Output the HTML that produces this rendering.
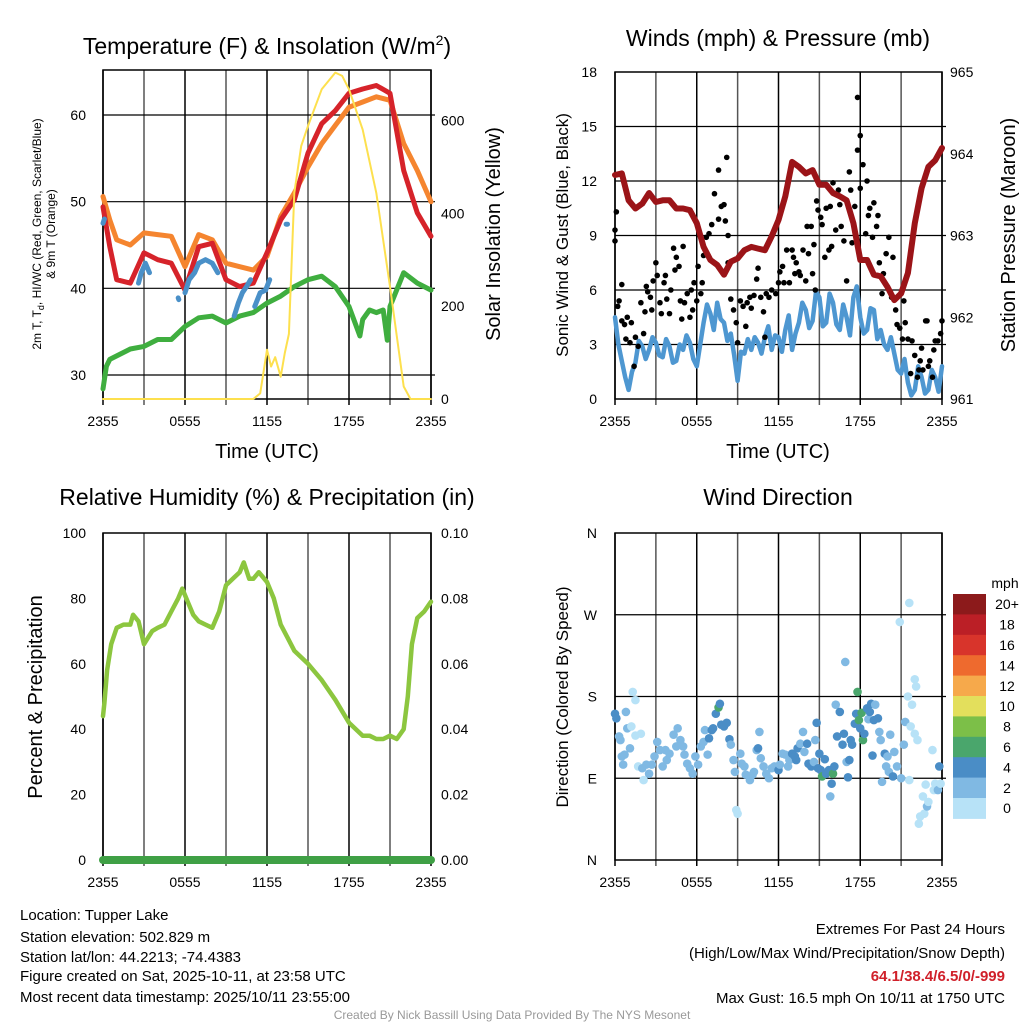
<!DOCTYPE html>
<html><head><meta charset="utf-8"><style>
html,body{margin:0;padding:0;background:#fff;}
svg{display:block;font-family:"Liberation Sans",Arial,sans-serif;}
</style></head><body>
<svg id="chart" width="1024" height="1024" viewBox="0 0 1024 1024" xmlns="http://www.w3.org/2000/svg">
<rect width="1024" height="1024" fill="#fff"/>
<g id="layer"></g>
<text x="267" y="54" font-size="23" text-anchor="middle">Temperature (F) &amp; Insolation (W/m<tspan font-size="14" dy="-9">2</tspan><tspan dy="9">)</tspan></text>
<text x="778" y="46" font-size="23" text-anchor="middle">Winds (mph) &amp; Pressure (mb)</text>
<text x="267" y="505" font-size="23" text-anchor="middle">Relative Humidity (%) &amp; Precipitation (in)</text>
<text x="778" y="505" font-size="23" text-anchor="middle">Wind Direction</text>
<text transform="translate(41,234) rotate(-90)" font-size="12" text-anchor="middle">2m T, T<tspan font-size="9" dy="3">d</tspan><tspan dy="-3">, HI/WC (Red, Green, Scarlet/Blue)</tspan></text>
<text transform="translate(55,234) rotate(-90)" font-size="12" text-anchor="middle">&amp; 9m T (Orange)</text>
<text transform="translate(500,234) rotate(-90)" font-size="20" text-anchor="middle">Solar Insolation (Yellow)</text>
<text x="267" y="458" font-size="20" text-anchor="middle">Time (UTC)</text>
<text transform="translate(568,235) rotate(-90)" font-size="17" text-anchor="middle">Sonic Wind &amp; Gust (Blue, Black)</text>
<text transform="translate(1015,235) rotate(-90)" font-size="20" text-anchor="middle">Station Pressure (Maroon)</text>
<text x="778" y="458" font-size="20" text-anchor="middle">Time (UTC)</text>
<text transform="translate(42,697) rotate(-90)" font-size="20" text-anchor="middle">Percent &amp; Precipitation</text>
<text transform="translate(568,697) rotate(-90)" font-size="17" text-anchor="middle">Direction (Colored By Speed)</text>
<g font-size="15">
<text x="20" y="920">Location: Tupper Lake</text>
<text x="20" y="942">Station elevation: 502.829 m</text>
<text x="20" y="962">Station lat/lon: 44.2213; -74.4383</text>
<text x="20" y="981">Figure created on Sat, 2025-10-11, at 23:58 UTC</text>
<text x="20" y="1002">Most recent data timestamp: 2025/10/11 23:55:00</text>
</g>
<g font-size="15" text-anchor="end">
<text x="1005" y="934">Extremes For Past 24 Hours</text>
<text x="1005" y="958">(High/Low/Max Wind/Precipitation/Snow Depth)</text>
<text x="1005" y="981" fill="#d0202a" font-weight="bold">64.1/38.4/6.5/0/-999</text>
<text x="1005" y="1003">Max Gust: 16.5 mph On 10/11 at 1750 UTC</text>
</g>
<text x="512" y="1019" font-size="12" fill="#999" text-anchor="middle">Created By Nick Bassill Using Data Provided By The NYS Mesonet</text>
</svg>
<script>
// ---------- data ----------
const xTickLabels = ["2355","0555","1155","1755","2355"];
const tempTicks = [30,40,50,60];
const solarTicks = [0,200,400,600];
const windTicks = [0,3,6,9,12,15,18];
const presTicks = [961,962,963,964,965];
const rhTicks = [0,20,40,60,80,100];
const precipTicks = ["0.00","0.02","0.04","0.06","0.08","0.10"];
const dirTicks = ["N","E","S","W","N"];
const speedBins = ["0","2","4","6","8","10","12","14","16","18","20+"];
const speedColors = ["#b7e2f7","#80b9e3","#4a8dc6","#4aa66c","#7cbf48","#e3df5c","#f6a94b","#ee6a2e","#d8342b","#bb1f26","#8c1a1b"];

const orangeT = [0,0.5,1,2,3,4,5,6,7,8,9,10,11,12,13,14,15,16,17,18,19,20,21,22,23,24];
const orangeV = [50.6,47.9,45.6,45.0,46.4,46.2,46.0,42.5,46.2,45.6,42.9,42.5,42.1,43.7,48.3,51.0,54.0,56.7,58.8,60.9,61.5,62.1,61.7,56.7,53.6,50.0];
const redT = [0,0.5,1,2,3,4,5,6,7,8,9,10,11,12,13,14,15,16,17,18,19,20,21,22,23,24];
const redV = [49.4,44.8,41.0,40.6,44.1,43.3,42.9,39.8,44.8,45.2,41.0,40.2,40.6,44.1,47.9,50.2,55.6,59.0,60.5,62.5,63.0,63.4,62.5,53.6,48.7,46.0];
const blueTT = [0,0.1,null,2.6,2.8,3.1,3.4,null,5.5,5.55,null,6.0,6.3,6.7,7.0,7.5,8.0,8.4,null,9.6,9.9,10.2,10.5,10.8,null,11.1,11.5,11.9,12.2,null,13.4,13.5];
const blueTV = [47.5,48,null,40.6,41.8,42.9,41.8,null,38.9,38.7,null,39.5,41,41.8,42.9,43.3,42.9,41.8,null,36.8,38.3,39.5,40.2,41,null,37.9,39.5,39.8,41,null,47.4,47.4];
const greenT = [0,0.25,0.5,1,2,3,4,5,6,7,8,9,10,11,12,13,14,15,16,17,18,18.8,19,19.5,20,20.5,20.8,21,22,23,24];
const greenV = [28.4,31,31.8,32.2,33.0,33.3,34.1,34.1,35.6,36.6,36.8,36.0,36.8,37.2,38.3,39.1,40.2,41.0,41.4,40.2,37.9,34.5,36.4,37.5,37.2,37.5,34.0,37.9,41.8,40.6,39.8];
const solarT = [0,11,11.5,12,12.3,12.6,13,13.3,13.6,14,14.5,15,16,17,17.5,18,19,20,21,22,22.5,24];
const solarV = [0,0,12,106,70,90,48,99,140,444,545,588,667,703,696,667,580,444,242,27,0,0];

const presT = [0,0.5,1,1.5,2,2.5,3,3.5,4,4.5,5,5.5,6,6.5,7,7.5,8,8.5,9,9.5,10,10.5,11,11.5,12,12.5,13,13.5,14,14.5,15,15.5,16,16.5,17,17.5,18,18.5,19,19.5,20,20.5,21,21.5,22,22.5,23,23.5,24];
const presV = [963.74,963.76,963.43,963.33,963.39,963.52,963.41,963.43,963.43,963.33,963.33,963.31,963.15,962.86,962.70,962.64,962.52,962.68,962.72,962.82,962.86,962.84,962.82,962.99,963.19,963.48,963.90,963.84,963.76,963.80,963.62,963.62,963.52,963.48,963.43,963.15,962.70,962.70,962.52,962.50,962.37,962.21,962.29,962.54,963.15,963.58,963.84,963.92,964.07];
const windT = [0,0.25,0.5,0.75,1,1.25,1.5,1.75,2,2.25,2.5,2.75,3,3.25,3.5,3.75,4,4.25,4.5,4.75,5,5.25,5.5,5.75,6,6.25,6.5,6.75,7,7.25,7.5,7.75,8,8.25,8.5,8.75,9,9.25,9.5,9.75,10,10.25,10.5,10.75,11,11.25,11.5,11.75,12,12.25,12.5,12.75,13,13.25,13.5,13.75,14,14.25,14.5,14.75,15,15.25,15.5,15.75,16,16.25,16.5,16.75,17,17.25,17.5,17.75,18,18.25,18.5,18.75,19,19.25,19.5,19.75,20,20.25,20.5,20.75,21,21.25,21.5,21.75,22,22.25,22.5,22.75,23,23.25,23.5,23.75,24];
const windV = [4.5,3.0,2.1,1.2,0.5,1.5,2.0,3.2,2.9,2.2,2.7,3.4,3.1,2.4,2.3,3.3,2.9,2.0,2.1,3.0,2.7,3.5,3.1,2.2,1.8,3.0,4.2,5.2,4.7,3.8,5.3,4.4,4.2,3.2,3.6,2.4,1.0,2.6,2.5,3.3,2.7,3.4,3.1,2.5,3.4,4.0,2.7,3.5,3.4,2.6,3.8,4.6,2.7,3.6,4.2,5.3,4.9,3.9,4.3,5.9,5.6,4.0,4.2,5.8,5.3,4.1,3.8,5.2,4.5,3.5,5.6,6.2,4.5,3.6,3.8,5.0,4.9,3.3,3.8,3.0,2.7,3.4,2.5,1.6,1.4,2.2,0.9,0.2,0.5,1.8,1.2,0.3,0.5,1.6,1.2,0.4,1.8];
const gustT = [0,0.1,0,0.2,0.3,0.5,0.5,0.7,0.9,0.8,1.1,1.2,1.4,1.5,1.7,1.9,2.1,2.2,2.3,2.4,2.6,2.7,2.8,3.0,3.1,3.3,3.4,3.6,3.7,3.8,4.0,4.1,4.3,4.4,4.5,4.7,4.8,4.9,5.0,5.1,5.3,5.5,5.6,5.7,5.8,6.0,6.1,6.3,6.4,6.5,6.7,6.9,7.1,7.3,7.6,7.6,7.8,8.0,8.1,8.2,8.3,8.3,8.5,8.7,8.9,9.0,9.2,9.4,9.6,9.7,9.9,10.0,10.2,10.4,10.5,10.7,10.9,11.0,11.1,11.3,11.5,11.8,12.0,12.1,12.3,12.4,12.6,12.8,13.0,13.1,13.2,13.3,13.5,13.6,13.8,14.0,14.1,14.2,14.4,14.5,14.6,14.7,14.8,14.9,15.1,15.2,15.4,15.5,15.7,15.8,15.9,16.0,16.2,16.4,16.5,16.6,16.8,17.0,17.2,17.3,17.4,17.6,17.8,17.8,18.0,18.0,18.2,18.4,18.5,18.6,18.7,18.9,19.0,19.2,19.3,19.4,19.6,19.7,19.9,20.1,20.3,20.4,20.6,20.7,20.9,21.1,21.2,21.3,21.5,21.7,21.8,22.0,22.2,22.3,22.4,22.5,22.6,22.8,22.9,23.0,23.1,23.3,23.4,23.5,23.7,23.9,24.0];
const gustV = [8.7,10.3,9.3,5.1,5.4,6.3,4.3,4.1,4.5,3.3,3.1,4.2,1.8,3.4,2.9,5.3,3.6,4.8,6.2,5.9,5.6,4.9,6.5,7.5,6.8,5.3,4.7,6.4,6.8,5.5,4.7,6.0,8.3,7.1,7.8,7.3,5.4,4.4,8.4,5.3,5.8,4.5,6.0,4.9,6.4,5.4,7.3,5.8,6.4,7.9,8.9,9.1,9.6,11.3,9.9,12.6,10.6,10.7,9.8,13.3,9.0,7.5,5.5,4.9,4.2,3.1,5.4,5.1,4.0,5.3,5.6,5.0,5.7,6.6,7.2,5.6,4.8,3.4,5.8,5.6,6.0,5.8,6.4,7.0,7.3,6.4,8.2,6.4,8.2,7.8,6.9,7.5,7.0,6.8,8.2,6.5,9.5,8.0,9.5,6.9,8.5,6.0,10.9,10.4,10.0,9.6,7.8,10.5,8.2,10.6,8.4,11.9,9.3,11.5,10.7,9.5,8.7,6.5,12.5,11.5,8.6,10.6,13.7,16.6,14.5,11.6,12.9,9.1,12.0,10.1,10.5,8.9,10.8,9.5,10.1,7.5,5.8,6.9,8.0,8.9,5.6,7.8,4.9,4.1,3.9,3.3,5.4,4.2,3.3,1.4,3.2,2.4,1.2,1.6,2.1,2.8,1.6,4.3,4.3,1.8,2.1,1.2,2.7,3.2,3.2,3.6,4.3];

const rhT = [0,0.1,0.3,0.6,1,1.5,2,2.2,2.6,3,3.3,3.6,4,4.5,5,5.5,5.8,6.2,6.6,7,7.5,8,8.5,9,9.5,10,10.3,10.7,11,11.4,12,12.5,13,13.5,14,15,16,17,18,19,19.5,20,20.5,21,21.5,22,22.3,22.6,23,23.5,24];
const rhV = [44,48,58,66,71,72,72,75,73,66,68,70,71,72,76,80,83,79,75,73,72,71,76,84,86,88,91,86,86,88,85,80,72,68,64,60,55,49,42,38,38,37,37,38,37,40,50,66,74,76,79];
const precipT = [0,24];
const precipV = [0,0];

const dirT = [0.0,0.1,0.3,0.4,0.5,0.6,0.7,0.8,0.9,1.1,1.2,1.3,1.5,1.5,1.7,1.9,2.0,2.1,2.3,2.5,2.7,2.9,3.1,3.3,3.5,3.7,3.8,4.0,4.3,4.5,4.6,4.8,5.0,5.1,5.3,5.5,5.7,5.9,6.1,6.3,6.5,6.6,6.8,6.9,7.1,7.2,7.4,7.6,7.7,7.8,8.0,8.2,8.4,8.5,8.7,8.8,8.9,9.0,9.2,9.3,9.5,9.6,9.9,10.1,10.2,10.4,10.5,10.6,10.7,10.9,11.1,11.3,11.5,11.7,12.0,12.1,12.3,12.5,12.7,12.8,13.0,13.2,13.3,13.4,13.6,13.8,13.9,14.1,14.2,14.4,14.6,14.7,14.8,14.9,15.0,15.1,15.2,15.4,15.5,15.7,15.8,15.9,16.0,16.1,16.2,16.3,16.5,16.7,16.8,16.9,17.0,17.1,17.2,17.3,17.4,17.6,17.7,17.8,17.9,18.0,18.1,18.2,18.3,18.5,18.6,18.7,18.8,18.9,19.0,19.1,19.3,19.4,19.5,19.6,19.8,19.9,20.0,20.1,20.2,20.4,20.5,20.7,20.9,21.0,21.2,21.3,21.5,21.6,21.6,21.7,21.8,22.0,22.0,22.1,22.2,22.3,22.4,22.6,22.7,22.8,22.9,23.0,23.3,23.4,23.5,23.7,23.8,23.9];
const dirV = [161,156,136,132,114,105,116,163,145,123,147,185,176,137,103,139,101,88,105,95,105,114,130,121,103,121,110,117,138,125,145,132,125,116,106,101,95,114,105,125,130,143,116,134,143,145,161,168,172,149,147,151,133,127,110,97,55,51,117,106,103,94,88,94,97,121,123,141,112,103,95,90,101,103,99,105,117,116,103,110,117,114,110,123,128,141,119,128,106,103,108,132,151,101,117,99,92,111,95,99,70,84,95,103,171,136,163,127,139,218,108,91,110,132,127,150,161,185,154,145,162,132,139,167,155,163,172,115,154,171,156,141,132,86,117,103,114,97,138,92,119,103,262,90,127,152,180,88,283,147,171,139,199,191,132,40,48,70,51,83,59,64,121,77,84,77,103,84];
const dirS = [5,5,3,3,3,3,3,3,3,3,1,1,1,1,1,1,3,1,3,3,3,3,3,3,3,3,3,3,3,3,3,3,3,3,3,3,3,3,3,3,3,3,3,5,5,5,5,7,5,5,5,5,5,3,3,3,1,1,3,3,3,3,3,3,3,3,5,3,3,3,3,3,3,3,5,3,3,3,3,3,5,5,5,5,3,3,3,5,5,5,3,3,5,5,5,5,7,5,5,5,3,5,7,5,3,5,5,5,5,3,3,5,5,5,5,5,5,7,7,5,7,7,5,5,3,5,5,5,5,3,5,3,3,3,5,3,3,3,3,5,3,3,1,3,3,3,1,1,1,1,1,1,1,1,1,1,1,1,1,1,3,1,1,1,1,3,5,1,3];

// ---------- helpers ----------
const NS = "http://www.w3.org/2000/svg";
const layer = document.getElementById("layer");
function mk(tag, attrs, parent){
  const e = document.createElementNS(NS, tag);
  for (const k in attrs) e.setAttribute(k, attrs[k]);
  (parent || layer).appendChild(e);
  return e;
}
function xScale(x0,x1){ return h => x0 + (h/24)*(x1-x0); }
function linScale(d0,d1,r0,r1){ return v => r0 + (v-d0)/(d1-d0)*(r1-r0); }
function pathD(ts, vs, sx, sy){
  let d = "", pen = false;
  for (let i=0;i<ts.length;i++){
    if (ts[i]===null || vs[i]===null){ pen=false; continue; }
    d += (pen?"L":"M") + sx(ts[i]).toFixed(1) + "," + sy(vs[i]).toFixed(1);
    pen = true;
  }
  return d;
}
function panelFrame(name, x0,y0,x1,y1, hLines, vGray){
  const g = mk("g", {});
  
  
  for (let i=0;i<=8;i++){
    const x = x0 + i*(x1-x0)/8;
    const l = mk("line", {x1:x, x2:x, y1:y0, y2:y1+6, stroke: (i%2===0)?"#000":"#555", "stroke-width":1.5}, g);
    
    
  }
  hLines.forEach(y => {
    const l = mk("line", {x1:x0, x2:x1+4, y1:y, y2:y, stroke:"#000", "stroke-width":1.2}, g);
    
    
  });
  const r = mk("rect", {x:x0, y:y0, width:x1-x0, height:y1-y0, fill:"none", stroke:"#000", "stroke-width":1.5}, g);
  
  
  xTickLabels.forEach((lab,i) => {
    const t = mk("text", {x: x0 + i*(x1-x0)/4, y: y1+27, "font-size":14, "text-anchor":"middle"}, g);
    t.textContent = lab;
    
    
  });
}
function tickLabel(name, x, y, txt, anchor){
  const t = mk("text", {x:x, y:y+5, "font-size":14, "text-anchor":anchor});
  t.textContent = txt;
  
  
}
function line(name, d, color, w){
  const p = mk("path", {d:d, fill:"none", stroke:color, "stroke-width":w, "stroke-linejoin":"round", "stroke-linecap":"round"});
  
  
  return p;
}

// ---------- panel 1: temperature ----------
(function(){
  const x0=103,x1=431,y0=70,y1=399;
  const sx = xScale(x0,x1);
  const sT = linScale(30,60,375,115);
  const sW = linScale(0,700,399,74);
  panelFrame("temperature", x0,y0,x1,y1, tempTicks.map(sT));
  tempTicks.forEach(v => tickLabel("temperature-y-tick-label", 86, sT(v), String(v), "end"));
  solarTicks.forEach(v => tickLabel("solar-y-tick-label", 441, sW(v), String(v), "start"));
  line("dewpoint-line", pathD(greenT, greenV, sx, sT), "#3fae3f", 5);
  line("temp-9m-line", pathD(orangeT, orangeV, sx, sT), "#f5852f", 5);
  line("temp-2m-line", pathD(redT, redV, sx, sT), "#d6232a", 5);
  line("heat-index-windchill-line", pathD(blueTT, blueTV, sx, sT), "#4a90c8", 5);
  line("solar-insolation-line", pathD(solarT, solarV, sx, sW), "#fde04e", 2);
})();

// ---------- panel 2: winds ----------
(function(){
  const x0=615,x1=942,y0=72,y1=399;
  const sx = xScale(x0,x1);
  const sV = linScale(0,18,399,72);
  const sP = linScale(961,965,399,72);
  panelFrame("wind", x0,y0,x1,y1, windTicks.slice(1,6).map(sV));
  windTicks.forEach(v => tickLabel("wind-y-tick-label", 597, sV(v), String(v), "end"));
  presTicks.forEach(v => tickLabel("pressure-y-tick-label", 950, sP(v), String(v), "start"));
  line("sonic-wind-line", pathD(windT, windV, sx, sV), "#4e97d1", 4.5);
  for (let i=0;i<gustT.length;i++){
    const c = mk("circle", {cx:sx(gustT[i]), cy:sV(gustV[i]), r:2.8, fill:"#000"});
    
    
  }
  line("pressure-line", pathD(presT, presV, sx, sP), "#9b1418", 6);
})();

// ---------- panel 3: humidity ----------
(function(){
  const x0=103,x1=431,y0=533,y1=860;
  const sx = xScale(x0,x1);
  const sR = linScale(0,100,860,533);
  const sPr = linScale(0,0.1,860,533);
  panelFrame("humidity", x0,y0,x1,y1, []);
  rhTicks.forEach(v => tickLabel("humidity-y-tick-label", 86, sR(v), String(v), "end"));
  precipTicks.forEach(v => tickLabel("precip-y-tick-label", 441, sPr(parseFloat(v)), v, "start"));
  line("relative-humidity-line", pathD(rhT, rhV, sx, sR), "#8cc63f", 4.5);
  line("precipitation-line", pathD(precipT, precipV, sx, sPr), "#3fa045", 8);
})();

// ---------- panel 4: wind direction ----------
(function(){
  const x0=615,x1=942,y0=533,y1=860;
  const sx = xScale(x0,x1);
  const sD = linScale(0,360,860,533);
  panelFrame("direction", x0,y0,x1,y1, [90,180,270].map(sD));
  dirTicks.forEach((lab,i) => tickLabel("direction-y-tick-label", 597, sD(i*90), lab, "end"));
  for (let i=0;i<dirT.length;i++){
    const bin = Math.min(10, Math.floor(dirS[i]/2));
    const c = mk("circle", {cx:sx(dirT[i]), cy:sD(dirV[i]), r:4.3, fill:speedColors[bin]});
    
    
  }
  // colorbar
  const cbx=953, cby=594, bh=20.4;
  const t = mk("text", {x:1005, y:588, "font-size":14, "text-anchor":"middle"});
  t.textContent = "mph";
  
  
  for (let i=0;i<speedBins.length;i++){
    const k = speedBins.length-1-i;
    const r = mk("rect", {x:cbx, y:cby+i*bh, width:33, height:bh+0.5, fill:speedColors[k]});
    
    
    tickLabel("colorbar-label", 1007, cby+i*bh+bh/2, speedBins[k], "middle");
  }
})();
</script>
</body></html>
